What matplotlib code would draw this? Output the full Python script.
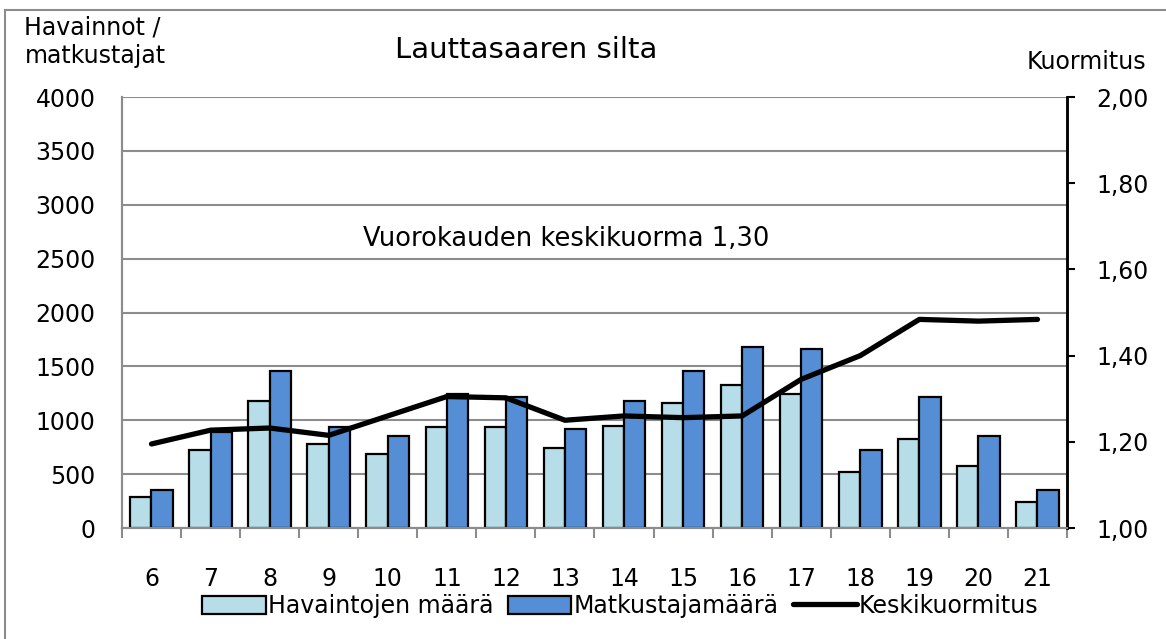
import matplotlib.pyplot as plt
import numpy as np
from matplotlib.patches import Rectangle

plt.rcParams['font.family'] = ['DejaVu Sans']

hours = [6, 7, 8, 9, 10, 11, 12, 13, 14, 15, 16, 17, 18, 19, 20, 21]
havainnot = [290, 720, 1180, 775, 685, 940, 940, 740, 945, 1160, 1330, 1240, 520, 830, 575, 245]
matkustajat = [350, 890, 1460, 940, 850, 1240, 1220, 920, 1180, 1460, 1680, 1665, 720, 1220, 850, 350]
kuormitus = [1.195, 1.227, 1.232, 1.215, 1.26, 1.305, 1.302, 1.25, 1.26, 1.256, 1.26, 1.345, 1.40, 1.484, 1.48, 1.484]

fig = plt.figure(figsize=(11.66, 6.39), dpi=100)
ax = fig.add_axes([0.1046, 0.1737, 0.8105, 0.6745])
ax2 = ax.twinx()

x = np.array(hours)
w = 0.36
ax.bar(x - w / 2, havainnot, w, color='#b7dde8', edgecolor='black', linewidth=1.6,
       label='Havaintojen määrä', zorder=3)
ax.bar(x + w / 2, matkustajat, w, color='#558ed5', edgecolor='black', linewidth=1.6,
       label='Matkustajamäärä', zorder=3)
ax2.plot(x, kuormitus, color='black', linewidth=3.8, label='Keskikuormitus',
         solid_capstyle='round')

ax.set_xlim(5.5, 21.5)
ax.set_ylim(0, 4000)
ax2.set_ylim(1.0, 2.0)

ax.set_yticks(range(0, 4001, 500))
ax.tick_params(axis='y', length=0, pad=19, labelsize=17)
ax.grid(axis='y', color='#8c8c8c', linewidth=1.5, zorder=0)
ax.set_axisbelow(True)

ax.set_xticks(hours)
ax.set_xticks(np.arange(5.5, 22, 1), minor=True)
ax.tick_params(axis='x', which='major', length=0, pad=28, labelsize=17)
ax.tick_params(axis='x', which='minor', length=7, width=1.5, color='#8c8c8c')

ax2.set_yticks([1.0, 1.2, 1.4, 1.6, 1.8, 2.0])
ax2.set_yticklabels(['1,00', '1,20', '1,40', '1,60', '1,80', '2,00'])
ax2.tick_params(axis='y', length=6, width=1.5, color='black', pad=15, labelsize=17)

for a in (ax, ax2):
    a.spines['top'].set_visible(False)
    a.spines['left'].set_color('#8c8c8c')
    a.spines['left'].set_linewidth(1.5)
    a.spines['bottom'].set_color('#8c8c8c')
    a.spines['bottom'].set_linewidth(1.5)
    a.spines['right'].set_color('black')
    a.spines['right'].set_linewidth(1.8)

fig.text(0.451, 0.922, 'Lauttasaaren silta', ha='center', va='center', fontsize=21)
fig.text(0.021, 0.935, 'Havainnot /\nmatkustajat', ha='left', va='center', fontsize=17,
         linespacing=1.25)
fig.text(0.983, 0.903, 'Kuormitus', ha='right', va='center', fontsize=17)
ax.text(9.58, 2680, 'Vuorokauden keskikuorma 1,30', ha='left', va='center', fontsize=18.5)

h1, l1 = ax.get_legend_handles_labels()
h2, l2 = ax2.get_legend_handles_labels()
fig.legend(h1 + h2, l1 + l2, loc='center', bbox_to_anchor=(0.532, 0.052), ncol=3,
           frameon=False, fontsize=17, handlelength=2.7, handleheight=0.8,
           handletextpad=0.1, columnspacing=0.6, borderpad=0)

fig.patches.append(Rectangle((0.0043, -0.02), 1.1, 1.0044, transform=fig.transFigure,
                             fill=False, edgecolor='#8c8c8c', linewidth=1.5))

fig.savefig('out.png', dpi=100)
